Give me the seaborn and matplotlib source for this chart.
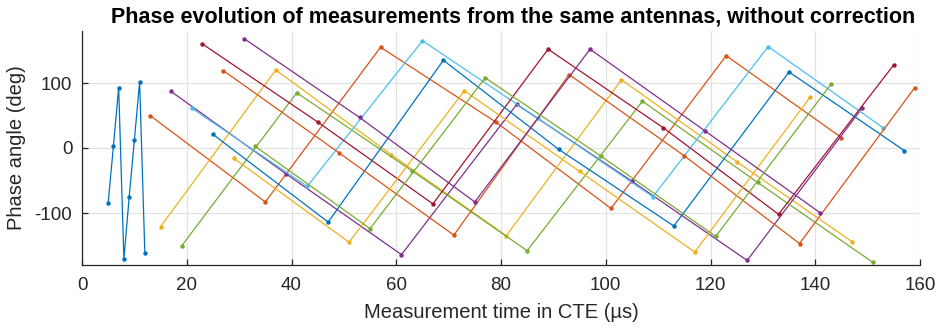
import matplotlib
matplotlib.use("Agg")
import matplotlib.pyplot as plt
import seaborn as sns
import pandas as pd

# Reference period samples (1 µs spacing)
ref_t = [5, 6, 7, 8, 9, 10, 11, 12]
ref_phase = [-84, 3, 93, -171, -76, 12, 102, -162]

# Switched-antenna samples, one list per antenna slot
ant01_t = [13, 35, 57, 79, 101, 123, 145]
ant01_phase = [50, -83, 155, 40, -93, 142, 16]
ant02_t = [15, 37, 59, 81, 103, 125, 147]
ant02_phase = [-121, 120, -10, -135, 105, -21, -144]
ant03_t = [17, 39, 61, 83, 105, 127, 149]
ant03_phase = [87, -40, -164, 67, -51, -173, 62]
ant04_t = [19, 41, 63, 85, 107, 129, 151]
ant04_phase = [-151, 85, -35, -158, 72, -53, -176]
ant05_t = [21, 43, 65, 87, 109, 131, 153]
ant05_phase = [61, -59, 165, 46, -75, 156, 31]
ant06_t = [23, 45, 67, 89, 111, 133, 155]
ant06_phase = [160, 40, -86, 152, 31, -102, 128]
ant07_t = [25, 47, 69, 91, 113, 135, 157]
ant07_phase = [21, -114, 135, -2, -120, 117, -4]
ant08_t = [27, 49, 71, 93, 115, 137, 159]
ant08_phase = [119, -7, -134, 113, -12, -147, 93]
ant09_t = [29, 51, 73, 95, 117, 139]
ant09_phase = [-16, -145, 88, -36, -160, 78]
ant10_t = [31, 53, 75, 97, 119, 141]
ant10_phase = [168, 47, -83, 152, 26, -100]
ant11_t = [33, 55, 77, 99, 121, 143]
ant11_phase = [3, -124, 108, -12, -136, 98]

series = [
    ("ref", ref_t, ref_phase),
    ("ant01", ant01_t, ant01_phase),
    ("ant02", ant02_t, ant02_phase),
    ("ant03", ant03_t, ant03_phase),
    ("ant04", ant04_t, ant04_phase),
    ("ant05", ant05_t, ant05_phase),
    ("ant06", ant06_t, ant06_phase),
    ("ant07", ant07_t, ant07_phase),
    ("ant08", ant08_t, ant08_phase),
    ("ant09", ant09_t, ant09_phase),
    ("ant10", ant10_t, ant10_phase),
    ("ant11", ant11_t, ant11_phase),
]

rows = []
for name, ts, ps in series:
    for t, p in zip(ts, ps):
        rows.append({"series": name, "t": t, "phase": p})
df = pd.DataFrame(rows)

order_colors = ["#0072BD", "#D95319", "#EDB120", "#7E2F8E",
                "#77AC30", "#4DBEEE", "#A2142F"]
palette = {name: order_colors[i % 7] for i, (name, _, _) in enumerate(series)}

sns.set_theme(style="whitegrid")
plt.rcParams["font.family"] = ["Liberation Sans", "DejaVu Sans"]
plt.rcParams["axes.unicode_minus"] = False

fig = plt.figure(figsize=(9.37, 3.30), dpi=100)
ax = fig.add_axes([82 / 937, 1 - 265 / 330, (920 - 82) / 937, (265 - 31) / 330])

sns.lineplot(data=df, x="t", y="phase", hue="series", palette=palette,
             hue_order=[s[0] for s in series], estimator=None, sort=False,
             marker="o", markersize=3.2, markeredgewidth=0, linewidth=0.9,
             legend=False, ax=ax)

ax.set_xlim(0, 160)
ax.set_ylim(-180, 180)
ax.set_xticks([0, 20, 40, 60, 80, 100, 120, 140, 160])
ax.set_yticks([-100, 0, 100])
ax.grid(True, color="#e3e3e3", linewidth=0.9)
ax.set_axisbelow(True)

for side in ["top", "right"]:
    ax.spines[side].set_visible(False)
for side in ["left", "bottom"]:
    ax.spines[side].set_color("#262626")
    ax.spines[side].set_linewidth(0.9)

ax.tick_params(axis="both", direction="in", length=4, width=0.9,
               colors="#262626", labelsize=13.5, pad=7,
               left=True, bottom=True)
ax.tick_params(axis="x", pad=9)

ax.set_xlabel("Measurement time in CTE (µs)", fontsize=14.5, color="#262626",
              labelpad=6)
ax.set_ylabel("Phase angle (deg)", fontsize=14.5, color="#262626",
              labelpad=6)
ax.set_title("Phase evolution of measurements from the same antennas, without correction",
             fontsize=15.5, fontweight="bold", color="black", pad=6, x=0.515)

fig.savefig("out.png", dpi=100)
